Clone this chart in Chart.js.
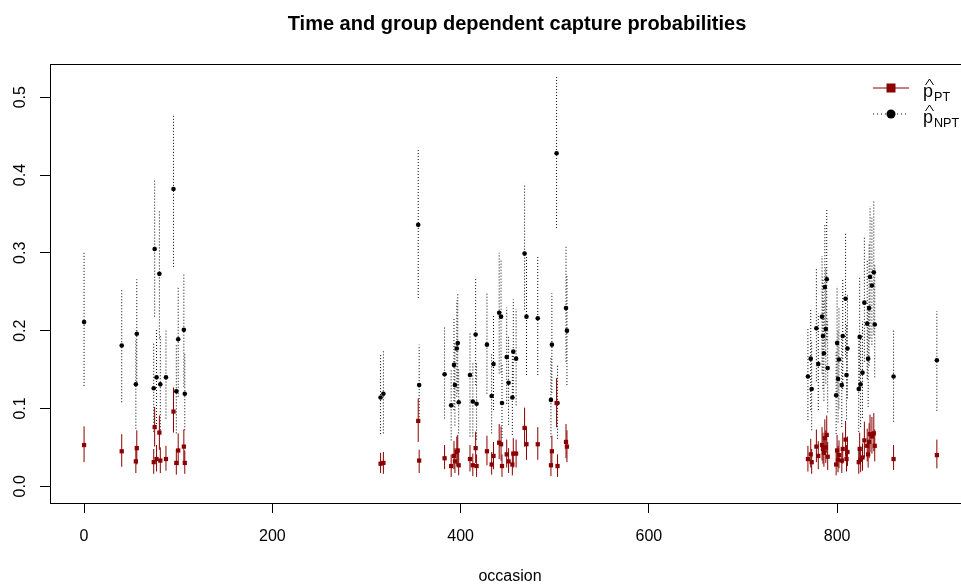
<!DOCTYPE html>
<html>
<head>
<meta charset="utf-8">
<script src="https://cdn.jsdelivr.net/npm/chart.js@4.4.0/dist/chart.umd.min.js"></script>
<style>
  html, body { margin: 0; padding: 0; background: #fff; overflow: hidden; }
</style>
</head>
<body>
<canvas id="chart" width="1000" height="586"></canvas>
<script>
// occasions and estimates
const occasion = [0, 40, 55, 56, 74, 75, 77, 80, 81, 87, 95, 98, 100, 106, 107,
  315, 318, 355, 356,
  383, 390, 393, 394, 396, 397, 398, 410, 413, 416, 417, 428, 433, 435, 441, 443, 444, 449, 451, 455, 456, 459, 468, 470, 482, 496, 497, 502, 503, 512, 513,
  769, 772, 773, 778, 780, 784, 785, 786, 787, 788, 789, 790, 799, 800, 801, 802, 805, 806, 809, 810, 811, 823, 824, 825, 827, 829, 832, 833, 834, 835, 837, 839, 840, 860, 906];

// p-hat NPT with interval
const pNPT = [0.211, 0.181, 0.131, 0.196, 0.126, 0.305, 0.140, 0.273, 0.131, 0.140, 0.382, 0.122, 0.189, 0.201, 0.119,
  0.114, 0.119, 0.336, 0.130,
  0.144, 0.104, 0.156, 0.130, 0.177, 0.184, 0.108, 0.143, 0.109, 0.195, 0.106, 0.182, 0.116, 0.157, 0.223, 0.218, 0.107, 0.166, 0.133, 0.114, 0.173, 0.164, 0.299, 0.218, 0.216, 0.111, 0.182, 0.428, 0.107, 0.229, 0.200,
  0.141, 0.164, 0.125, 0.203, 0.157, 0.218, 0.193, 0.171, 0.256, 0.202, 0.266, 0.152, 0.117, 0.184, 0.138, 0.163, 0.130, 0.193, 0.241, 0.143, 0.177, 0.125, 0.192, 0.131, 0.146, 0.236, 0.209, 0.164, 0.229, 0.269, 0.258, 0.275, 0.208, 0.141, 0.162];
const npLow = [0.129, 0.108, 0.074, 0.130, 0.070, 0.218, 0.080, 0.190, 0.072, 0.087, 0.282, 0.068, 0.115, 0.128, 0.072,
  0.067, 0.068, 0.242, 0.085,
  0.087, 0.059, 0.098, 0.078, 0.115, 0.122, 0.068, 0.064, 0.064, 0.130, 0.060, 0.119, 0.068, 0.098, 0.145, 0.146, 0.062, 0.106, 0.079, 0.066, 0.112, 0.104, 0.227, 0.143, 0.143, 0.063, 0.120, 0.332, 0.061, 0.160, 0.130,
  0.085, 0.098, 0.072, 0.135, 0.098, 0.145, 0.125, 0.110, 0.180, 0.132, 0.188, 0.095, 0.067, 0.118, 0.082, 0.100, 0.076, 0.125, 0.165, 0.086, 0.113, 0.070, 0.124, 0.076, 0.088, 0.160, 0.138, 0.102, 0.155, 0.190, 0.182, 0.195, 0.140, 0.083, 0.097];
const npHigh = [0.300, 0.254, 0.190, 0.266, 0.185, 0.395, 0.203, 0.354, 0.195, 0.200, 0.477, 0.183, 0.257, 0.272, 0.172,
  0.169, 0.175, 0.435, 0.182,
  0.205, 0.150, 0.216, 0.185, 0.239, 0.248, 0.152, 0.199, 0.160, 0.269, 0.158, 0.248, 0.170, 0.220, 0.300, 0.292, 0.158, 0.230, 0.192, 0.168, 0.240, 0.228, 0.389, 0.295, 0.295, 0.165, 0.248, 0.526, 0.156, 0.308, 0.270,
  0.203, 0.229, 0.185, 0.280, 0.222, 0.296, 0.268, 0.240, 0.338, 0.280, 0.355, 0.215, 0.175, 0.257, 0.200, 0.230, 0.190, 0.266, 0.327, 0.208, 0.248, 0.188, 0.268, 0.193, 0.212, 0.320, 0.290, 0.233, 0.312, 0.360, 0.345, 0.366, 0.285, 0.200, 0.225];

// p-hat PT with interval
const pPT = [0.053, 0.045, 0.032, 0.049, 0.031, 0.076, 0.035, 0.069, 0.033, 0.035, 0.096, 0.030, 0.046, 0.051, 0.030,
  0.029, 0.030, 0.084, 0.033,
  0.036, 0.026, 0.039, 0.032, 0.044, 0.046, 0.027, 0.035, 0.027, 0.049, 0.026, 0.045, 0.028, 0.039, 0.056, 0.054, 0.026, 0.041, 0.032, 0.028, 0.042, 0.042, 0.075, 0.054, 0.054, 0.027, 0.045, 0.107, 0.026, 0.057, 0.051,
  0.035, 0.041, 0.031, 0.051, 0.039, 0.053, 0.048, 0.043, 0.062, 0.050, 0.066, 0.038, 0.028, 0.046, 0.034, 0.040, 0.033, 0.048, 0.060, 0.035, 0.044, 0.031, 0.048, 0.034, 0.037, 0.059, 0.052, 0.041, 0.057, 0.067, 0.064, 0.068, 0.052, 0.035, 0.040];
const ptLow = [0.031, 0.025, 0.017, 0.028, 0.016, 0.051, 0.019, 0.047, 0.017, 0.020, 0.069, 0.015, 0.027, 0.030, 0.016,
  0.017, 0.016, 0.057, 0.017,
  0.022, 0.012, 0.022, 0.017, 0.026, 0.027, 0.014, 0.019, 0.013, 0.030, 0.012, 0.027, 0.015, 0.022, 0.035, 0.033, 0.012, 0.024, 0.017, 0.014, 0.024, 0.024, 0.051, 0.034, 0.034, 0.013, 0.027, 0.076, 0.012, 0.036, 0.031,
  0.019, 0.024, 0.016, 0.031, 0.022, 0.033, 0.029, 0.025, 0.040, 0.030, 0.043, 0.021, 0.014, 0.027, 0.018, 0.023, 0.017, 0.029, 0.038, 0.019, 0.026, 0.016, 0.029, 0.018, 0.020, 0.037, 0.032, 0.024, 0.036, 0.044, 0.042, 0.045, 0.032, 0.021, 0.023];
const ptHigh = [0.077, 0.067, 0.052, 0.072, 0.048, 0.102, 0.053, 0.091, 0.050, 0.052, 0.127, 0.048, 0.068, 0.073, 0.046,
  0.043, 0.044, 0.113, 0.047,
  0.053, 0.041, 0.058, 0.049, 0.064, 0.066, 0.042, 0.053, 0.042, 0.070, 0.041, 0.065, 0.044, 0.057, 0.080, 0.077, 0.041, 0.060, 0.049, 0.044, 0.062, 0.060, 0.101, 0.076, 0.076, 0.043, 0.065, 0.139, 0.041, 0.080, 0.072,
  0.052, 0.061, 0.048, 0.073, 0.058, 0.076, 0.069, 0.063, 0.086, 0.072, 0.091, 0.057, 0.045, 0.066, 0.052, 0.059, 0.050, 0.069, 0.084, 0.053, 0.064, 0.048, 0.069, 0.051, 0.055, 0.083, 0.074, 0.060, 0.081, 0.092, 0.089, 0.094, 0.073, 0.053, 0.060];

const xTicks = [0, 200, 400, 600, 800];
const yTicks = [0, 0.1, 0.2, 0.3, 0.4, 0.5];
const yTickLabels = ['0.0', '0.1', '0.2', '0.3', '0.4', '0.5'];

const FONT = '"Liberation Sans", Arial, Helvetica, sans-serif';
const DARKRED = '#8B0000';
Chart.defaults.font.family = FONT;
Chart.defaults.color = '#000';

// vertical interval segments, under the points
const errorBars = {
  id: 'errorBars',
  beforeDatasetsDraw(chart) {
    const { ctx, scales: { x, y } } = chart;
    ctx.save();
    ctx.lineWidth = 1;
    ctx.strokeStyle = '#000';
    ctx.setLineDash([1, 2]);
    occasion.forEach((o, i) => {
      const px = x.getPixelForValue(o);
      ctx.beginPath();
      ctx.moveTo(px, y.getPixelForValue(npLow[i]));
      ctx.lineTo(px, y.getPixelForValue(npHigh[i]));
      ctx.stroke();
    });
    ctx.setLineDash([]);
    ctx.strokeStyle = DARKRED;
    occasion.forEach((o, i) => {
      const px = x.getPixelForValue(o);
      ctx.beginPath();
      ctx.moveTo(px, y.getPixelForValue(ptLow[i]));
      ctx.lineTo(px, y.getPixelForValue(ptHigh[i]));
      ctx.stroke();
    });
    ctx.restore();
  }
};

// box, title, y labels and legend (R style)
const decorations = {
  id: 'decorations',
  afterDraw(chart) {
    const { ctx, chartArea: a, scales: { y } } = chart;
    ctx.save();
    ctx.strokeStyle = '#000';
    ctx.lineWidth = 1;
    ctx.strokeRect(Math.round(a.left) + 0.5, Math.round(a.top) + 0.5, a.right - a.left, a.bottom - a.top);

    ctx.fillStyle = '#000';
    ctx.font = 'bold 20px ' + FONT;
    ctx.textAlign = 'center';
    ctx.textBaseline = 'alphabetic';
    ctx.fillText('Time and group dependent capture probabilities', 517, 30);

    ctx.font = '16px ' + FONT;
    yTicks.forEach((v, i) => {
      ctx.save();
      ctx.translate(25, y.getPixelForValue(v));
      ctx.rotate(-Math.PI / 2);
      ctx.fillText(yTickLabels[i], 0, 0);
      ctx.restore();
    });

    // legend
    const lx1 = 873, lx2 = 909, mx = 891;
    ctx.strokeStyle = DARKRED;
    ctx.beginPath(); ctx.moveTo(lx1, 88); ctx.lineTo(lx2, 88); ctx.stroke();
    ctx.fillStyle = DARKRED;
    ctx.fillRect(mx - 4.5, 88 - 4.5, 9, 9);
    ctx.strokeStyle = '#000';
    ctx.setLineDash([1, 3]);
    ctx.beginPath(); ctx.moveTo(lx1, 114); ctx.lineTo(lx2, 114); ctx.stroke();
    ctx.setLineDash([]);
    ctx.fillStyle = '#000';
    ctx.beginPath(); ctx.arc(mx, 114, 4.5, 0, Math.PI * 2); ctx.fill();

    [['PT', 97], ['NPT', 123]].forEach(([sub, base]) => {
      ctx.textAlign = 'left';
      ctx.font = '18px ' + FONT;
      ctx.fillText('p', 923, base);
      ctx.font = '12.6px ' + FONT;
      ctx.fillText(sub, 934, base + 3.5);
      ctx.lineWidth = 1;
      ctx.beginPath();
      ctx.moveTo(925.5, base - 12);
      ctx.lineTo(929.5, base - 18);
      ctx.lineTo(933.5, base - 12);
      ctx.stroke();
    });
    ctx.restore();
  }
};

const ctx = document.getElementById('chart').getContext('2d');
new Chart(ctx, {
  type: 'scatter',
  data: {
    datasets: [{
      label: 'PT',
      data: occasion.map((o, i) => ({ x: o, y: pPT[i] })),
      pointStyle: 'rect',
      pointRadius: 3,
      backgroundColor: DARKRED,
      borderWidth: 0
    }, {
      label: 'NPT',
      data: occasion.map((o, i) => ({ x: o, y: pNPT[i] })),
      pointStyle: 'circle',
      pointRadius: 2.3,
      backgroundColor: '#000',
      borderWidth: 0
    }]
  },
  options: {
    responsive: false,
    animation: false,
    events: [],
    layout: { padding: { top: 64, right: 30, left: 0, bottom: 0 } },
    plugins: {
      legend: { display: false },
      tooltip: { enabled: false }
    },
    scales: {
      x: {
        type: 'linear',
        min: -36.2,
        max: 941.2,
        afterBuildTicks: s => { s.ticks = xTicks.map(v => ({ value: v })); },
        afterFit: s => { s.height = 83; },
        grid: { drawOnChartArea: false, tickLength: 10, color: '#000' },
        border: { color: '#000', width: 1 },
        ticks: { padding: 14, maxRotation: 0, font: { size: 16 }, color: '#000' },
        title: { display: true, text: 'occasion', font: { size: 16 }, color: '#000', padding: { top: 0, bottom: 0 } }
      },
      y: {
        type: 'linear',
        min: -0.0215,
        max: 0.5427,
        afterBuildTicks: s => { s.ticks = yTicks.map(v => ({ value: v })); },
        afterFit: s => { s.width = 50; },
        grid: { drawOnChartArea: false, tickLength: 10, color: '#000' },
        border: { color: '#000', width: 1 },
        ticks: { display: false }
      }
    }
  },
  plugins: [errorBars, decorations]
});
</script>
</body>
</html>
